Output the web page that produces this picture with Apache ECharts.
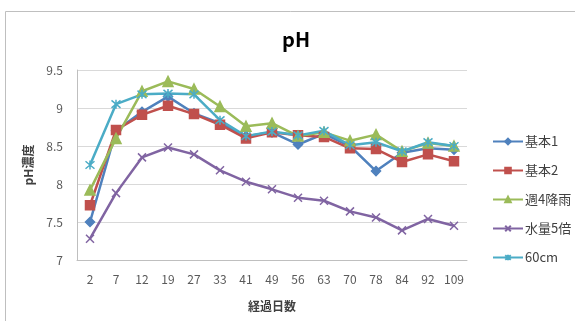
<!DOCTYPE html>
<html>
<head>
<meta charset="utf-8">
<script src="https://cdn.jsdelivr.net/npm/echarts@6/dist/echarts.min.js"></script>
<style>
  html, body { margin: 0; padding: 0; background: #fff; }
  #chart { width: 575px; height: 321px; }
</style>
</head>
<body>
<div id="chart"></div>
<script>
// 経過日数
const days = ["2", "7", "12", "19", "27", "33", "41", "49", "56", "63", "70", "78", "84", "92", "109"];

const kihon1 = [7.50, 8.70, 8.95, 9.15, 8.93, 8.80, 8.63, 8.68, 8.52, 8.66, 8.50, 8.17, 8.41, 8.47, 8.45];
const kihon2 = [7.72, 8.71, 8.91, 9.03, 8.92, 8.78, 8.60, 8.68, 8.64, 8.62, 8.47, 8.46, 8.29, 8.39, 8.30];
const shu4 = [7.92, 8.60, 9.22, 9.35, 9.25, 9.02, 8.76, 8.80, 8.63, 8.68, 8.57, 8.65, 8.43, 8.54, 8.50];
const suiryo5 = [7.28, 7.88, 8.35, 8.48, 8.39, 8.18, 8.03, 7.93, 7.82, 7.78, 7.64, 7.56, 7.39, 7.54, 7.45];
const cm60 = [8.25, 9.05, 9.18, 9.19, 9.18, 8.84, 8.63, 8.69, 8.64, 8.70, 8.51, 8.55, 8.43, 8.55, 8.50];

const yTicks = ["7", "7.5", "8", "8.5", "9", "9.5"];

const font = "'Noto Sans CJK JP', 'Open Sans', sans-serif";
const xMark = "path://M0,0L10,10M10,0L0,10";
const starMark = "path://M0,0L10,10M10,0L0,10M5,-1L5,11";

function makeSeries(name, data, color, symbol, size) {
  return {
    name: name,
    type: "line",
    data: data,
    symbol: symbol,
    symbolSize: size,
    lineStyle: { color: color, width: 2.5 },
    itemStyle: { color: color, borderColor: color, borderWidth: 1.5 },
  };
}

let myChart = echarts.init(document.getElementById("chart"));
myChart.setOption({
  animation: false,
  textStyle: { fontFamily: font },
  title: {
    text: "pH",
    left: 277,
    top: 24,
    textStyle: { fontSize: 20, fontWeight: "bold", color: "#000", fontFamily: font },
  },
  graphic: [
    {
      type: "rect",
      shape: { x: 5.5, y: 11.5, width: 600, height: 400 },
      style: { fill: "none", stroke: "#BFBFBF", lineWidth: 1 },
      silent: true,
    },
  ],
  legend: {
    orient: "vertical",
    left: 487,
    top: 130,
    itemGap: 16,
    itemWidth: 30,
    itemHeight: 7,
    textStyle: { fontSize: 13, color: "#404040", fontFamily: font, padding: [0, 0, 0, -3] },
  },
  grid: {
    left: 77,
    top: 70,
    width: 390,
    height: 190,
  },
  xAxis: {
    type: "category",
    data: days,
    boundaryGap: true,
    name: "経過日数",
    nameLocation: "middle",
    nameGap: 40,
    nameTextStyle: { fontSize: 12, fontWeight: "bold", color: "#404040" },
    axisLine: { lineStyle: { color: "#BFBFBF" } },
    axisTick: { show: false },
    axisLabel: { color: "#595959", fontSize: 12, margin: 13 },
  },
  yAxis: {
    type: "value",
    min: 7,
    max: 9.5,
    interval: 0.5,
    name: "pH濃度",
    nameLocation: "middle",
    nameGap: 43,
    nameTextStyle: { fontSize: 12, fontWeight: "bold", color: "#404040" },
    axisLine: { show: true, lineStyle: { color: "#BFBFBF" } },
    axisTick: { show: false },
    axisLabel: {
      color: "#595959",
      fontSize: 12,
      margin: 14,
      formatter: (v) => yTicks[Math.round((v - 7) / 0.5)],
    },
    splitLine: { lineStyle: { color: "#D9D9D9" } },
  },
  series: [
    makeSeries("基本1", kihon1, "#4F81BD", "diamond", 9),
    makeSeries("基本2", kihon2, "#C0504D", "rect", 9),
    makeSeries("週4降雨", shu4, "#9BBB59", "triangle", 10),
    makeSeries("水量5倍", suiryo5, "#8064A2", xMark, 8),
    makeSeries("60cm", cm60, "#4BACC6", starMark, 9),
  ],
});
</script>
</body>
</html>
